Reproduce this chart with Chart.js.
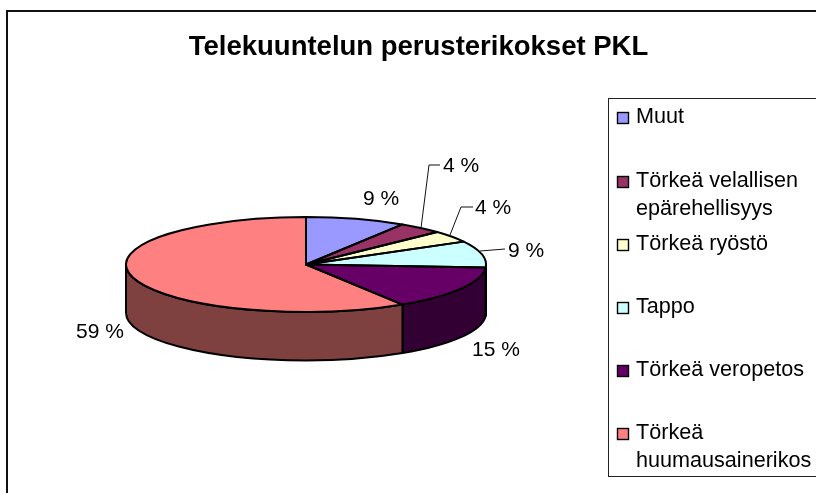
<!DOCTYPE html>
<html>
<head>
<meta charset="utf-8">
<style>html,body{margin:0;padding:0;background:#fff;overflow:hidden}canvas{display:block}</style>
<script src="https://cdn.jsdelivr.net/npm/chart.js@4"></script>
</head>
<body>
<canvas id="c" width="816" height="493"></canvas>
<script>
const titleText = 'Telekuuntelun perusterikokset PKL';
const categories = ['Muut','Törkeä velallisen epärehellisyys','Törkeä ryöstö','Tappo','Törkeä veropetos','Törkeä huumausainerikos'];
const values = [9,4,4,9,15,59];
const colors = ['#9999FF','#993366','#FFFFCC','#CCFFFF','#660066','#FF8080'];

const FONT = '"Liberation Sans", Arial, sans-serif';
const SQUASH = 47.5/180, DEPTH = 48.5;
const labelPos = [[363,205],[443,172],[475,214],[508,257],[472,356],[76,338]];
const leaders = [null,[[421,228],[429,165],[440,165]],[[450,235],[461,207],[473,207]],[[480,251],[505,249]],null,null];
const legendBaselines = [123,187,250,313,376,439];

function darken(hex){
  const n = parseInt(hex.slice(1),16);
  return 'rgb('+((n>>16)>>1)+','+(((n>>8)&255)>>1)+','+((n&255)>>1)+')';
}
function wrap(ctx,text,max){
  const out=[];let cur='';
  for(const w of text.split(' ')){
    const t=cur?cur+' '+w:w;
    if(cur && ctx.measureText(t).width>max){out.push(cur);cur=w;} else cur=t;
  }
  out.push(cur);return out;
}
const pie3d = {
  id:'pie3d',
  beforeDatasetsDraw(chart){
    const ctx=chart.ctx, arcs=chart.getDatasetMeta(0).data;
    ctx.save();
    ctx.lineWidth=2; ctx.strokeStyle='#000'; ctx.lineJoin='round';
    arcs.forEach((a,i)=>{
      const s=Math.max(a.startAngle,0), e=Math.min(a.endAngle,Math.PI);
      if(e<=s) return;
      const R=a.outerRadius;
      ctx.beginPath();
      ctx.ellipse(a.x,a.y,R,R*SQUASH,0,s,e);
      ctx.ellipse(a.x,a.y+DEPTH,R,R*SQUASH,0,e,s,true);
      ctx.closePath();
      ctx.fillStyle=darken(colors[i]);
      ctx.fill(); ctx.stroke();
    });
    ctx.restore();
    const cy=arcs[0].y;
    ctx.save();
    ctx.translate(0,cy); ctx.scale(1,SQUASH); ctx.translate(0,-cy);
  },
  afterDatasetsDraw(chart){
    const ctx=chart.ctx, arcs=chart.getDatasetMeta(0).data;
    ctx.restore();
    ctx.save();
    ctx.lineWidth=2; ctx.strokeStyle='#000'; ctx.lineJoin='round';
    arcs.forEach(a=>{
      const R=a.outerRadius;
      ctx.beginPath();
      ctx.moveTo(a.x,a.y);
      ctx.ellipse(a.x,a.y,R,R*SQUASH,0,a.startAngle,a.endAngle);
      ctx.closePath();
      ctx.stroke();
    });
    ctx.lineWidth=1; ctx.strokeStyle='#111';
    leaders.forEach(l=>{
      if(!l) return;
      ctx.beginPath();
      l.forEach((p,j)=> j?ctx.lineTo(p[0],p[1]):ctx.moveTo(p[0],p[1]));
      ctx.stroke();
    });
    ctx.fillStyle='#000'; ctx.textAlign='left'; ctx.textBaseline='alphabetic';
    ctx.font='21px '+FONT;
    values.forEach((v,i)=>ctx.fillText(v+' %',labelPos[i][0],labelPos[i][1]));
    ctx.restore();
  },
  afterDraw(chart){
    const ctx=chart.ctx;
    ctx.save();
    ctx.strokeStyle='#111'; ctx.lineWidth=2;
    ctx.strokeRect(7,11,900,600);
    ctx.fillStyle='#000'; ctx.textAlign='center'; ctx.textBaseline='alphabetic';
    ctx.font='bold 27.5px '+FONT;
    ctx.fillText(titleText,418.5,55);
    ctx.strokeStyle='#222'; ctx.lineWidth=1;
    ctx.strokeRect(608.5,98.5,300,378);
    ctx.textAlign='left';
    ctx.font='21.6px '+FONT;
    categories.forEach((c,i)=>{
      const b=legendBaselines[i];
      ctx.fillStyle=colors[i];
      ctx.fillRect(617.5,b-10.5,11,11);
      ctx.strokeStyle='#000'; ctx.lineWidth=1.4;
      ctx.strokeRect(617.5,b-10.5,11,11);
      ctx.fillStyle='#000';
      wrap(ctx,c,180).forEach((ln,j)=>ctx.fillText(ln,636,b+j*28));
    });
    ctx.restore();
  }
};
new Chart(document.getElementById('c'),{
  type:'pie',
  data:{labels:categories,datasets:[{data:values,backgroundColor:colors,borderWidth:0}]},
  options:{
    responsive:false,animation:false,events:[],
    layout:{padding:{left:126,right:330,top:84.5,bottom:48.5}},
    plugins:{legend:{display:false},tooltip:{enabled:false},title:{display:false}}
  },
  plugins:[pie3d]
});
</script>
</body>
</html>
